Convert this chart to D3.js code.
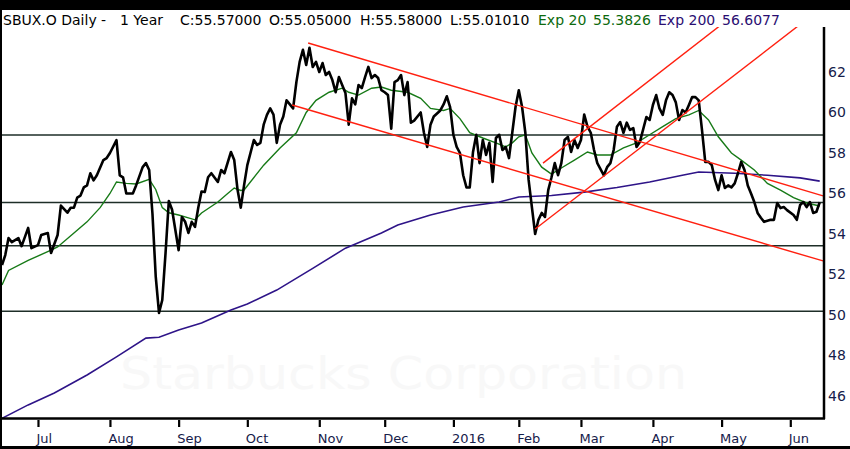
<!DOCTYPE html>
<html>
<head>
<meta charset="utf-8">
<script src="https://cdn.jsdelivr.net/npm/d3@7"></script>
<style>
  body { margin: 0; background: #fff; }
  svg { display: block; }
</style>
</head>
<body>
<div id="chart"></div>
<script>
// trading-day index (0 = mid June 2015) and closing price
var closeDay = [0,1,2,3,5,6,8,9,11,12,14,15,17,18,20,21,22,23,24,25,26,27,28,29,31,32,33,35,36,37,38,40,41,43,44,45,46,47,48,49,50,51,52,54,55,56,57,58,59,60,61,62,63,64,66,67,68,70,71,72,73,74,75,77,78,79,80,81,82,83,84,85,86,87,88,89,90,91,92,93,94,95,96,97,98,99,100,101,102,103,104,105,106,107,108,109,110,111,112,113,114,115,116,117,118,119,120,121,122,123,124,125,126,128,129,130,131,132,134,135,136,137,138,139,140,141,142,143,144,145,146,147,148,149,150,151,152,153,154,155,156,157,158,159,160,161,162,163,164,165,166,167,168,169,170,171,172,173,174,175,176,177,178,179,180,181,182,184,185,186,187,188,189,190,191,192,193,194,195,197,198,199,200,201,202,203,204,205,206,207,208,209,210,211,212,213,214,215,216,217,218,219,220,221,222,223,224,225,226,227,228,229,230,231,232,233,235,236,237,238,239,240,242,243,244,245,246,247,248,249,250];
var closeVal = [52.47,52.96,53.8,53.6,53.8,53.4,54.3,53.3,53.45,53.95,54.05,53.06,53.95,55.4,55.05,55.3,55.3,55.8,55.9,56.3,56.4,57.0,56.65,56.9,57.65,57.75,58.0,58.64,56.9,56.8,56.0,56.0,56.4,57.3,57.5,57.16,55.0,51.9,50.1,50.74,53.06,55.63,55.2,53.2,54.84,54.6,54.05,54.6,54.35,55.3,56.1,56.07,56.8,57.0,56.57,57.16,57.0,58.05,57.65,56.2,55.3,56.4,57.4,58.64,58.4,58.5,59.4,59.88,60.2,59.9,58.5,59.4,59.8,60.6,60.4,60.2,61.5,62.5,63.1,62.35,63.2,62.25,62.5,62.0,62.44,61.85,62.0,61.6,61.0,61.75,61.36,60.96,59.4,60.7,60.4,61.36,61.2,61.75,62.25,61.7,61.85,61.7,61.1,61.0,60.86,59.2,61.5,61.6,61.85,60.86,61.5,59.5,59.6,60.0,59.0,58.3,59.4,59.8,60.1,60.4,60.8,60.27,58.9,58.3,58.0,56.9,56.3,56.3,58.05,58.9,57.5,58.64,57.9,58.5,56.57,58.74,58.9,58.15,58.3,57.75,59.0,60.27,61.1,60.27,59.0,56.67,55.33,54.0,54.7,55.04,54.84,56.17,56.8,57.5,56.9,57.5,58.64,58.8,58.05,58.64,58.25,58.64,59.9,59.3,59.0,58.15,57.5,56.9,57.3,57.5,58.15,59.3,59.53,59.0,59.5,59.14,59.23,58.3,58.54,59.78,59.63,60.37,60.86,60.2,59.88,60.6,61.0,60.86,60.5,59.63,60.12,60.0,60.37,60.76,60.76,60.6,59.14,57.56,57.56,57.4,56.67,56.17,56.9,56.27,56.4,56.3,56.5,57.0,57.56,57.16,56.4,56.0,55.58,55.04,54.8,54.6,54.7,54.7,55.53,55.28,55.33,55.18,54.94,54.7,55.43,55.58,55.33,55.58,55.04,55.1,55.57];

var ema20Day = [0,2,8,15,17,22,26,30,33,35,38,41,45,47,49,51,54,57,59,61,66,69,71,73,74,80,85,90,93,96,100,104,106,109,113,116,119,124,128,131,135,137,140,143,147,151,154,156,158,160,162,165,168,171,175,179,182,186,190,194,198,202,206,210,213,216,219,223,226,230,234,238,242,246,250];
var ema20Val = [51.48,52.2,52.7,53.2,53.36,54.05,54.6,55.3,56.0,56.57,56.5,56.47,56.7,56.2,55.3,55.05,54.94,54.8,54.7,55.04,55.58,56.0,56.27,56.15,56.17,57.4,58.25,59.0,60.0,60.6,61.0,61.2,61.0,60.86,61.2,61.26,61.1,61.0,60.7,60.2,60.1,60.2,59.7,59.0,58.74,58.5,58.3,58.5,58.8,58.9,58.0,57.3,56.96,57.26,57.65,58.05,57.9,57.9,58.25,58.5,58.9,59.3,59.7,59.88,60.1,59.63,58.8,58.0,57.65,57.16,56.5,56.17,55.8,55.53,55.38];

var ema200Day = [0,8,16,26,35,44,48,54,61,70,75,84,95,105,116,121,131,141,152,158,168,178,188,198,208,213,224,234,244,250];
var ema200Val = [44.9,45.56,46.15,47.04,47.93,48.86,48.9,49.26,49.6,50.25,50.54,51.23,52.3,53.3,54.05,54.44,54.94,55.33,55.58,55.83,55.9,56.07,56.3,56.57,56.9,57.06,57.0,56.9,56.77,56.61];

// horizontal support / resistance levels
var levels = [58.89, 55.55, 53.42, 50.18];

// trend lines: [day1, price1, day2, price2]
var trendLines = [
  [93.6, 63.43, 251, 55.88],
  [88.7, 60.37, 251, 52.67],
  [165.4, 57.5, 222, 64.6],
  [163, 54.25, 246, 64.6]
];

var monthDays = [11, 33, 54, 75, 97, 117, 138, 158, 177, 199, 220, 241];
var monthLabels = ["Jul", "Aug", "Sep", "Oct", "Nov", "Dec", "2016", "Feb", "Mar", "Apr", "May", "Jun"];
var priceTicks = [46, 48, 50, 52, 54, 56, 58, 60, 62];

var width = 850, height = 449;
var plotLeft = 2, plotRight = 824, plotTop = 27, plotBottom = 418;

var svg = d3.select('#chart').append('svg')
    .attr('width', width)
    .attr('height', height)
    .style('font-family', '"DejaVu Sans", Verdana, sans-serif');

var x = d3.scaleLinear().domain([0, 251]).range([plotLeft, 823]);
var y = d3.scaleLinear().domain([46, 62]).range([396, 72]);

svg.append('defs').append('clipPath').attr('id', 'plotclip')
  .append('rect')
    .attr('x', plotLeft).attr('y', plotTop)
    .attr('width', plotRight - plotLeft).attr('height', plotBottom - plotTop);

// frame
svg.append('rect').attr('x', 0).attr('y', 0).attr('width', width).attr('height', 10).attr('fill', '#000');
svg.append('rect').attr('x', 0).attr('y', 0).attr('width', 2).attr('height', height).attr('fill', '#000');
svg.append('rect').attr('x', 0).attr('y', 446).attr('width', width).attr('height', 3).attr('fill', '#000');

// watermark
svg.append('text')
    .attr('x', 120).attr('y', 389)
    .attr('textLength', 567).attr('lengthAdjust', 'spacingAndGlyphs')
    .attr('font-size', 44)
    .attr('fill', '#f8f8f8')
    .text('Starbucks Corporation');

var plot = svg.append('g').attr('clip-path', 'url(#plotclip)');

// levels
plot.selectAll('.level')
  .data(levels)
  .enter().append('line')
    .attr('class', 'level')
    .attr('x1', plotLeft).attr('x2', plotRight)
    .attr('y1', function(d) { return y(d); })
    .attr('y2', function(d) { return y(d); })
    .attr('stroke', '#1e2e28')
    .attr('stroke-width', 1.5);

function series(days, vals) {
  return days.map(function(d, i) { return {x: d, y: vals[i]}; });
}

var line = d3.line()
    .x(function(d) { return x(d.x); })
    .y(function(d) { return y(d.y); });

plot.append('path')
    .datum(series(ema200Day, ema200Val))
    .attr('fill', 'none')
    .attr('stroke', '#2e1488')
    .attr('stroke-width', 1.6)
    .attr('d', line);

plot.append('path')
    .datum(series(ema20Day, ema20Val))
    .attr('fill', 'none')
    .attr('stroke', '#177a17')
    .attr('stroke-width', 1.4)
    .attr('d', line);

plot.append('path')
    .datum(series(closeDay, closeVal))
    .attr('fill', 'none')
    .attr('stroke', '#000')
    .attr('stroke-width', 2.6)
    .attr('stroke-linejoin', 'round')
    .attr('d', line);

plot.selectAll('.trend')
  .data(trendLines)
  .enter().append('line')
    .attr('class', 'trend')
    .attr('x1', function(d) { return x(d[0]); })
    .attr('y1', function(d) { return y(d[1]); })
    .attr('x2', function(d) { return x(d[2]); })
    .attr('y2', function(d) { return y(d[3]); })
    .attr('stroke', '#ff2010')
    .attr('stroke-width', 1.4);

// axes
svg.append('line')
    .attr('x1', 0).attr('x2', plotRight + 1)
    .attr('y1', plotBottom + 0.5).attr('y2', plotBottom + 0.5)
    .attr('stroke', '#000').attr('stroke-width', 2.5);
svg.append('line')
    .attr('x1', plotRight).attr('x2', plotRight)
    .attr('y1', plotTop).attr('y2', plotBottom + 1)
    .attr('stroke', '#000').attr('stroke-width', 2.5);

var xAxis = svg.append('g')
    .attr('transform', 'translate(0,' + (plotBottom + 2) + ')')
    .call(d3.axisBottom(x).tickValues(monthDays).tickSize(7)
      .tickFormat(function(d, i) { return monthLabels[i]; }));
xAxis.select('.domain').remove();
xAxis.selectAll('.tick line').attr('stroke', '#000').attr('stroke-width', 2.2);
xAxis.selectAll('.tick text')
    .attr('text-anchor', 'start')
    .attr('x', -2)
    .attr('y', 14)
    .attr('font-size', 13)
    .attr('font-family', '"DejaVu Sans", Verdana, sans-serif')
    .attr('fill', '#16204a');

var yAxis = svg.append('g')
    .attr('transform', 'translate(' + (plotRight + 3) + ',0)')
    .call(d3.axisRight(y).tickValues(priceTicks).tickSize(0));
yAxis.select('.domain').remove();
yAxis.selectAll('.tick text')
    .attr('x', 1)
    .attr('font-size', 14)
    .attr('font-family', '"DejaVu Sans", Verdana, sans-serif')
    .attr('fill', '#16204a');

// title row
var titleParts = [
  [3, 'SBUX.O Daily -', '#000'],
  [120, '1 Year', '#000'],
  [180, 'C:55.57000', '#000'],
  [269, 'O:55.05000', '#000'],
  [360, 'H:55.58000', '#000'],
  [450, 'L:55.01010', '#000'],
  [538, 'Exp 20', '#0d6a0d'],
  [593, '55.3826', '#0d6a0d'],
  [658, 'Exp 200', '#2a0e72'],
  [722, '56.6077', '#2a0e72']
];
svg.selectAll('.title')
  .data(titleParts)
  .enter().append('text')
    .attr('class', 'title')
    .attr('x', function(d) { return d[0]; })
    .attr('y', 25)
    .attr('font-size', 14)
    .attr('fill', function(d) { return d[2]; })
    .text(function(d) { return d[1]; });
</script>
</body>
</html>
